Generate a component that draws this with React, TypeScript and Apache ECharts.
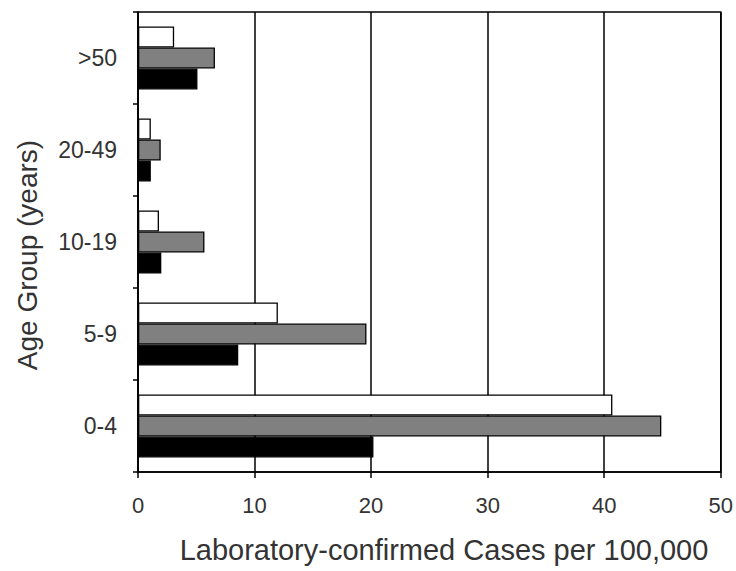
import React, { useEffect, useRef } from "react";
import * as echarts from "echarts";

const categories = ["0-4", "5-9", "10-19", "20-49", ">50"];
const whiteValues = [40.7, 12.0, 1.8, 1.1, 3.1];
const grayValues = [44.9, 19.6, 5.7, 1.95, 6.6];
const blackValues = [20.2, 8.6, 2.0, 1.1, 5.1];
const xTitle = "Laboratory-confirmed Cases per 100,000";
const yTitle = "Age Group (years)";

const FONT = "'Liberation Sans', Arial, sans-serif";

export default function App() {
  const ref = useRef<HTMLDivElement>(null);
  useEffect(() => {
    if (!ref.current) return;
    const chart = echarts.init(ref.current, null, { renderer: "svg" });
    const barStyle = (color: string) => ({
      color,
      borderColor: "#000",
      borderWidth: 1.3,
    });
    chart.setOption({
      animation: false,
      backgroundColor: "#fff",
      textStyle: { fontFamily: FONT },
      grid: {
        left: 138,
        right: 14,
        top: 12,
        bottom: 99,
        show: true,
        borderColor: "#000",
        borderWidth: 1.5,
        backgroundColor: "transparent",
      },
      xAxis: {
        type: "value",
        min: 0,
        max: 50,
        interval: 10,
        axisLine: { show: true, lineStyle: { color: "#000", width: 1.5 } },
        axisTick: { show: true, length: 6, lineStyle: { color: "#000", width: 1.5 } },
        axisLabel: { color: "#333", fontSize: 22, fontFamily: FONT, margin: 22 },
        splitLine: { show: true, lineStyle: { color: "#000", width: 1.5 } },
      },
      yAxis: {
        type: "category",
        data: categories,
        axisLine: { show: true, lineStyle: { color: "#000", width: 1.5 } },
        axisTick: { show: true, length: 5, lineStyle: { color: "#000", width: 1.5 } },
        axisLabel: { color: "#333", fontSize: 23, fontFamily: FONT, margin: 21 },
        splitLine: { show: false },
      },
      series: [
        {
          name: "Series A",
          type: "bar",
          data: whiteValues,
          barWidth: 21,
          barGap: "0%",
          itemStyle: barStyle("#ffffff"),
        },
        {
          name: "Series B",
          type: "bar",
          data: grayValues,
          barWidth: 21,
          barGap: "0%",
          itemStyle: barStyle("#808080"),
        },
        {
          name: "Series C",
          type: "bar",
          data: blackValues,
          barWidth: 21,
          barGap: "0%",
          itemStyle: barStyle("#000"),
        },
      ],
      graphic: [
        {
          type: "text",
          x: 444,
          y: 550,
          style: {
            text: xTitle,
            fontSize: 29,
            fontFamily: FONT,
            fill: "#333",
            align: "center",
            verticalAlign: "middle",
          },
        },
        {
          type: "text",
          x: 27,
          y: 255,
          rotation: Math.PI / 2,
          style: {
            text: yTitle,
            fontSize: 28,
            fontFamily: FONT,
            fill: "#333",
            align: "center",
            verticalAlign: "middle",
          },
        },
      ],
    });
    return () => chart.dispose();
  }, []);
  return (
    <div
      ref={ref}
      style={{ position: "absolute", left: 0, top: 0, width: 736, height: 571 }}
    />
  );
}
